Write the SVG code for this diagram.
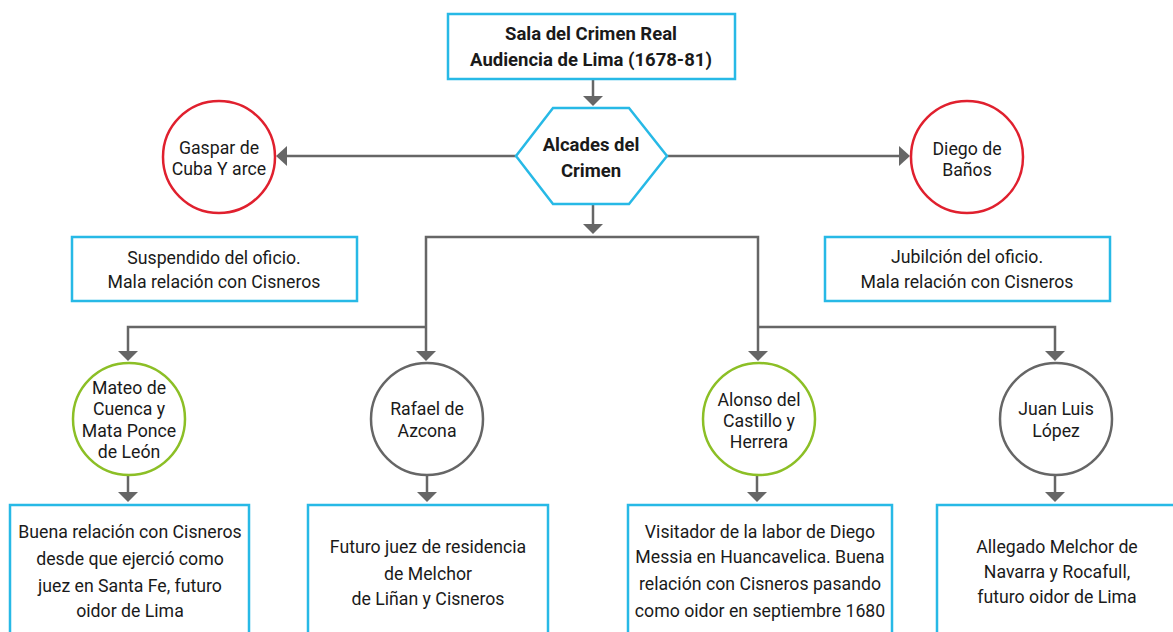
<svg xmlns="http://www.w3.org/2000/svg" width="1173" height="632" viewBox="0 0 1173 632">
<style>
.box{fill:#fff;stroke:#27b9e6;stroke-width:2.5}
.cr{fill:#fff;stroke:#e0202e;stroke-width:2.5}
.cg{fill:#fff;stroke:#8cbf26;stroke-width:2.5}
.cy{fill:#fff;stroke:#666;stroke-width:2.5}
.ln{fill:none;stroke:#666;stroke-width:2.5}
.ah{fill:#666}
text{font-family:Roboto,"Liberation Sans",sans-serif;font-size:17.7px;fill:#1a1a1a;text-anchor:middle}
.b{font-weight:bold;font-size:18.5px}
</style>
<g id="connectors">
<line class="ln" x1="593" y1="79" x2="593" y2="98"/>
<path class="ah" d="M583,96 L603,96 L593,106 z"/>
<line class="ln" x1="516" y1="156" x2="286" y2="156"/>
<path class="ah" d="M287,146 L287,166 L276,156 z"/>
<line class="ln" x1="667" y1="156" x2="900" y2="156"/>
<path class="ah" d="M899,146 L899,166 L910,156 z"/>
<line class="ln" x1="593" y1="204" x2="593" y2="226"/>
<path class="ah" d="M583,224 L603,224 L593,234 z"/>
<polyline class="ln" points="426,352 426,237 758,237 758,352"/>
<polyline class="ln" points="128,352 128,327 426,327"/>
<polyline class="ln" points="758,327 1055,327 1055,352"/>
<path class="ah" d="M416,351 L436,351 L426,361 z"/>
<path class="ah" d="M748,351 L768,351 L758,361 z"/>
<path class="ah" d="M118,351 L138,351 L128,361 z"/>
<path class="ah" d="M1045,351 L1065,351 L1055,361 z"/>
<line class="ln" x1="128" y1="475" x2="128" y2="494"/>
<path class="ah" d="M118,492 L138,492 L128,502 z"/>
<line class="ln" x1="427" y1="475" x2="427" y2="494"/>
<path class="ah" d="M417,492 L437,492 L427,502 z"/>
<line class="ln" x1="757" y1="475" x2="757" y2="494"/>
<path class="ah" d="M747,492 L767,492 L757,502 z"/>
<line class="ln" x1="1055" y1="475" x2="1055" y2="494"/>
<path class="ah" d="M1045,492 L1065,492 L1055,502 z"/>
</g>
<g id="sala">
<rect class="box" x="448" y="14" width="287" height="65"/>
<text class="b" x="591" y="40">Sala del Crimen Real</text>
<text class="b" x="591" y="66">Audiencia de Lima (1678-81)</text>
</g>
<g id="alcades">
<polygon class="box" points="553,108 629,108 667,156 629,204 553,204 516,156"/>
<text class="b" x="591" y="151">Alcades del</text>
<text class="b" x="591" y="177">Crimen</text>
</g>
<g id="gaspar">
<circle class="cr" cx="219" cy="157" r="56"/>
<text x="219" y="154">Gaspar de</text>
<text x="219" y="175">Cuba Y arce</text>
</g>
<g id="diego">
<circle class="cr" cx="967" cy="157" r="56"/>
<text x="967" y="155">Diego de</text>
<text x="967" y="176">Baños</text>
</g>
<g id="suspendido">
<rect class="box" x="72" y="237" width="285" height="64"/>
<text x="214" y="264">Suspendido del oficio.</text>
<text x="214" y="288">Mala relación con Cisneros</text>
</g>
<g id="jubilcion">
<rect class="box" x="825" y="237" width="285" height="64"/>
<text x="967" y="263">Jubilción del oficio.</text>
<text x="967" y="288">Mala relación con Cisneros</text>
</g>
<g id="mateo">
<circle class="cg" cx="129" cy="419" r="56"/>
<text x="129" y="394">Mateo de</text>
<text x="129" y="415">Cuenca y</text>
<text x="129" y="437">Mata Ponce</text>
<text x="129" y="458">de León</text>
</g>
<g id="rafael">
<circle class="cy" cx="427" cy="419" r="56"/>
<text x="427" y="415">Rafael de</text>
<text x="427" y="437">Azcona</text>
</g>
<g id="alonso">
<circle class="cg" cx="759" cy="419" r="56"/>
<text x="759" y="406">Alonso del</text>
<text x="759" y="427">Castillo y</text>
<text x="759" y="448">Herrera</text>
</g>
<g id="juan">
<circle class="cy" cx="1056" cy="419" r="56"/>
<text x="1056" y="415">Juan Luis</text>
<text x="1056" y="437">López</text>
</g>
<g id="box-mateo">
<rect class="box" x="10" y="505" width="239" height="140"/>
<text x="130" y="538">Buena relación con Cisneros</text>
<text x="130" y="565">desde que ejerció como</text>
<text x="130" y="592">juez en Santa Fe, futuro</text>
<text x="130" y="617">oidor de Lima</text>
</g>
<g id="box-rafael">
<rect class="box" x="308" y="505" width="240" height="140"/>
<text x="428" y="553">Futuro juez de residencia</text>
<text x="428" y="580">de Melchor</text>
<text x="428" y="605">de Liñan y Cisneros</text>
</g>
<g id="box-alonso">
<rect class="box" x="628" y="505" width="264" height="140"/>
<text x="760" y="538">Visitador de la labor de Diego</text>
<text x="760" y="563">Messia en Huancavelica. Buena</text>
<text x="760" y="590">relación con Cisneros pasando</text>
<text x="760" y="617">como oidor en septiembre 1680</text>
</g>
<g id="box-juan">
<rect class="box" x="937" y="505" width="250" height="140"/>
<text x="1057" y="553">Allegado Melchor de</text>
<text x="1057" y="578">Navarra y Rocafull,</text>
<text x="1057" y="603">futuro oidor de Lima</text>
</g>
</svg>
